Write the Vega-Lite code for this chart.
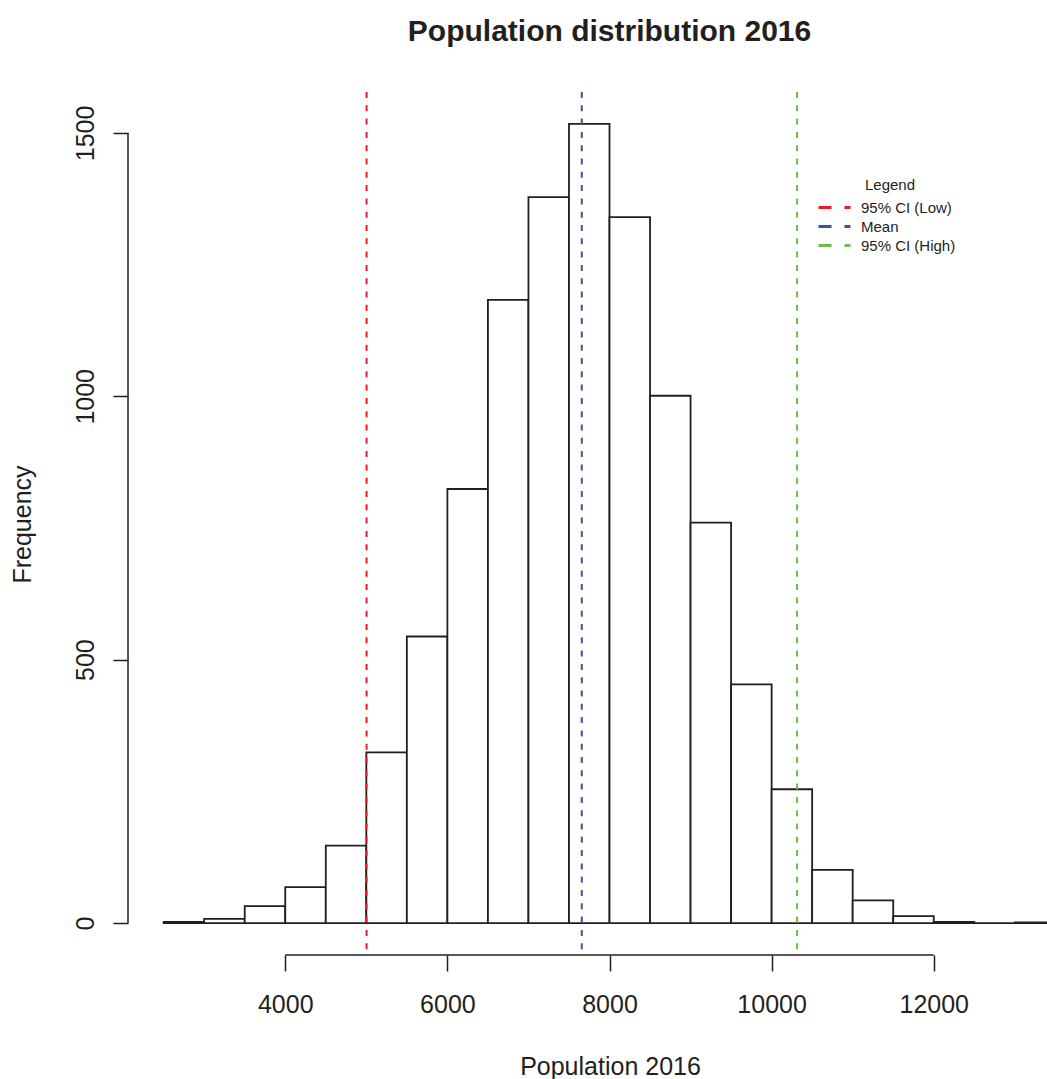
{
  "$schema": "https://vega.github.io/schema/vega-lite/v6.json",
  "width": 919,
  "height": 863,
  "autosize": {"type": "none"},
  "padding": {"left": 128, "top": 92, "right": 0, "bottom": 124},
  "background": "white",
  "config": {"view": {"stroke": null}, "font": "Liberation Sans"},
  "title": {
    "text": "Population distribution 2016",
    "fontSize": 30,
    "fontWeight": "bold",
    "color": "#231f20",
    "anchor": "middle",
    "frame": "group",
    "dx": 22,
    "offset": 20,
    "baseline": "alphabetic"
  },
  "datasets": {
    "bins": [
      {"bin_start": 2500, "bin_end": 3000, "count": 2},
      {"bin_start": 3000, "bin_end": 3500, "count": 8},
      {"bin_start": 3500, "bin_end": 4000, "count": 32},
      {"bin_start": 4000, "bin_end": 4500, "count": 68},
      {"bin_start": 4500, "bin_end": 5000, "count": 147},
      {"bin_start": 5000, "bin_end": 5500, "count": 324},
      {"bin_start": 5500, "bin_end": 6000, "count": 544},
      {"bin_start": 6000, "bin_end": 6500, "count": 824},
      {"bin_start": 6500, "bin_end": 7000, "count": 1183},
      {"bin_start": 7000, "bin_end": 7500, "count": 1378},
      {"bin_start": 7500, "bin_end": 8000, "count": 1517},
      {"bin_start": 8000, "bin_end": 8500, "count": 1340},
      {"bin_start": 8500, "bin_end": 9000, "count": 1001},
      {"bin_start": 9000, "bin_end": 9500, "count": 760},
      {"bin_start": 9500, "bin_end": 10000, "count": 453},
      {"bin_start": 10000, "bin_end": 10500, "count": 254},
      {"bin_start": 10500, "bin_end": 11000, "count": 101},
      {"bin_start": 11000, "bin_end": 11500, "count": 43},
      {"bin_start": 11500, "bin_end": 12000, "count": 13},
      {"bin_start": 12000, "bin_end": 12500, "count": 2},
      {"bin_start": 12500, "bin_end": 13000, "count": 0},
      {"bin_start": 13000, "bin_end": 13500, "count": 1}
    ],
    "lines": [
      {"label": "95% CI (Low)", "value": 5003},
      {"label": "Mean", "value": 7658},
      {"label": "95% CI (High)", "value": 10314}
    ]
  },
  "layer": [
    {
      "data": {"name": "bins"},
      "mark": {"type": "bar", "fill": "white", "stroke": "#231f20", "strokeWidth": 1.8, "clip": true},
      "encoding": {
        "x": {
          "field": "bin_start",
          "type": "quantitative",
          "scale": {"domain": [2060, 13397], "nice": false, "zero": false},
          "axis": {
            "title": "Population 2016",
            "values": [4000, 6000, 8000, 10000, 12000],
            "format": "d",
            "domain": false,
            "grid": false,
            "tickSize": 16,
            "tickWidth": 1.5,
            "tickColor": "#231f20",
            "labelFontSize": 25,
            "labelColor": "#231f20",
            "labelPadding": 41,
            "labelBaseline": "alphabetic",
            "labelFlush": false,
            "labelOverlap": false,
            "titleFontSize": 25,
            "titleFontWeight": "normal",
            "titleColor": "#231f20",
            "titleX": 482,
            "titleY": 119,
            "titleAlign": "center",
            "titleBaseline": "alphabetic"
          }
        },
        "x2": {"field": "bin_end"},
        "y": {
          "field": "count",
          "type": "quantitative",
          "scale": {"domain": [-60.7, 1577.7], "nice": false, "zero": false},
          "axis": {
            "title": "Frequency",
            "values": [0, 500, 1000, 1500],
            "format": "d",
            "domain": false,
            "grid": false,
            "tickSize": 15,
            "tickWidth": 1.5,
            "tickColor": "#231f20",
            "labelFontSize": 25,
            "labelColor": "#231f20",
            "labelAngle": -90,
            "labelAlign": "center",
            "labelBaseline": "alphabetic",
            "labelPadding": 20,
            "labelFlush": false,
            "labelOverlap": false,
            "titleFontSize": 25,
            "titleFontWeight": "normal",
            "titleColor": "#231f20",
            "titleAngle": -90,
            "titleX": -98,
            "titleY": 432,
            "titleAlign": "center",
            "titleBaseline": "alphabetic"
          }
        },
        "y2": {"datum": 0}
      }
    },
    {
      "data": {"name": "lines"},
      "mark": {"type": "rule", "strokeWidth": 2, "strokeDash": [6, 7.3]},
      "encoding": {
        "x": {"field": "value", "type": "quantitative"},
        "color": {
          "field": "label",
          "type": "nominal",
          "scale": {"domain": ["95% CI (Low)", "Mean", "95% CI (High)"], "range": ["#ed1c24", "#3a53a4", "#6abd45"]},
          "legend": {
            "title": "Legend",
            "orient": "none",
            "legendX": 696,
            "legendY": 86,
            "direction": "vertical",
            "padding": 0,
            "symbolType": "M-1.778,0H1.778",
            "symbolSize": 324,
            "symbolStrokeWidth": 3,
            "symbolDash": [13, 13],
            "symbolFillColor": "transparent",
            "labelFontSize": 15,
            "labelColor": "#231f20",
            "labelOffset": 16,
            "titleFontSize": 15,
            "titleFontWeight": "normal",
            "titleColor": "#231f20",
            "titleAnchor": "middle",
            "titlePadding": 4,
            "rowPadding": 0
          }
        }
      }
    },
    {
      "data": {"values": [{}]},
      "mark": {"type": "rule", "color": "#231f20", "strokeWidth": 1.5},
      "encoding": {"x": {"datum": 4000}, "x2": {"datum": 12000}, "y": {"datum": -60.7}}
    },
    {
      "data": {"values": [{}]},
      "mark": {"type": "rule", "color": "#231f20", "strokeWidth": 1.5},
      "encoding": {"x": {"datum": 2060}, "y": {"datum": 0}, "y2": {"datum": 1500}}
    }
  ]
}
